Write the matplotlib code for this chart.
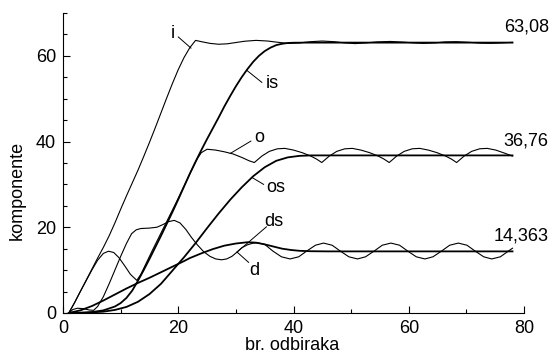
import matplotlib
matplotlib.use("Agg")
import matplotlib.pyplot as plt
from matplotlib.ticker import MultipleLocator

plt.rcParams['font.family'] = ['Liberation Sans', 'DejaVu Sans']

# i - thin, is - thick
i_x = [1, 2, 3, 4, 5, 6, 7, 8, 9, 10, 11, 12, 13, 14, 15, 16, 17, 18, 19, 20, 21, 22, 23,
       24, 25.5, 27, 28.5, 30, 31.5, 33.5, 35.5, 37, 39, 41, 43, 45, 47, 49, 50.7, 52.5,
       54.5, 56.8, 59, 61, 62.5, 64.5, 66.3, 68.3, 70.5, 72.5, 74.2, 76, 78]
i_y = [0, 2.4, 5, 7.6, 10.2, 12.8, 15.3, 18, 21, 24.2, 27.3, 30.3, 33.3, 36.5, 39.8, 43.2,
       46.7, 50.2, 53.6, 56.8, 59.6, 61.9, 63.6,
       63.3, 62.9, 62.7, 62.8, 63.1, 63.4, 63.6, 63.45, 63.2, 62.9, 63.0, 63.3, 63.45, 63.3,
       63.0, 62.85, 63.0, 63.25, 63.35, 63.2, 63.0, 62.9, 63.0, 63.25, 63.3, 63.15, 62.95,
       62.9, 63.0, 63.15]

is_x = [1, 3, 5, 7, 9, 10, 11, 12, 13, 14, 15, 16, 17, 18, 19, 20, 21, 22, 23, 24, 25, 26,
        27, 28, 29, 30, 31, 32, 33, 34, 35, 36, 37, 38, 39, 40, 42, 45, 78]
is_y = [0, 0.05, 0.2, 0.6, 1.5, 2.3, 3.5, 5.2, 7.5, 10, 12.6, 15.3, 18, 20.8, 23.6, 26.5,
        29.5, 32.5, 35.3, 38, 40.6, 43.1, 45.6, 48.2, 50.6, 52.9, 55, 56.9, 58.6, 60, 61.1,
        61.9, 62.5, 62.8, 63.0, 63.05, 63.08, 63.08, 63.08]

# o - thin, os - thick
o_x = [1, 2, 3, 4, 5, 6, 7, 7.9, 8.8, 9.7, 10.7, 11.7, 12.8, 13.5, 14.5, 15.5, 16.5, 17.5,
       18.5, 19.5, 20.5, 21.5, 22.5, 23.3, 24, 25, 26.5, 28, 29.5, 31, 32.3, 33.2, 34.5,
       35.8, 37.2, 38.5, 40, 41.5, 43, 44, 44.9, 46.2, 47.5, 48.9, 50.2, 51.7, 53.2, 54.7,
       55.7, 56.6, 57.9, 59.2, 60.6, 61.9, 63.4, 64.9, 66.4, 67.4, 68.3, 69.6, 70.9, 72.3,
       73.6, 75.1, 76.6, 78]
o_y = [0, 2.4, 5, 7.5, 10, 12.3, 13.9, 14.4, 14.1, 12.9, 11, 9, 7.6, 9, 11.8, 14.6, 17.3,
       20, 22.7, 25.4, 28.2, 31, 33.8, 36, 37.4, 38.2, 38.0, 37.6, 37.1, 36.3, 35.5, 35.1,
       36.6, 37.7, 38.3, 38.4, 38.0, 37.4, 36.6, 35.9, 35.1, 36.6, 37.7, 38.3, 38.4, 38.0,
       37.4, 36.6, 35.9, 35.1, 36.6, 37.7, 38.3, 38.4, 38.0, 37.4, 36.6, 35.9, 35.1, 36.6,
       37.7, 38.3, 38.4, 38.0, 37.3, 36.6]

os_x = [1, 4, 7, 9, 11, 13, 15, 17, 19, 21, 23, 25, 27, 29, 31, 33, 35, 37, 39, 41, 43, 78]
os_y = [0, 0.05, 0.3, 0.7, 1.4, 2.6, 4.4, 6.8, 9.9, 13.0, 16.3, 19.8, 23.2, 26.4, 29.3,
        31.9, 34, 35.5, 36.3, 36.65, 36.76, 36.76]

# d - thin, ds - thick
d_x = [1, 1.7, 2.5, 3.5, 4.5, 5.3, 6, 7, 8, 9, 10, 11, 11.9, 12.7, 13.5, 15, 16.3, 17.3,
       18.3, 19.3, 20.3, 21.3, 22.3, 23.3, 24.4, 25.5, 26.5, 27.5, 28.4, 29.3, 30.2, 31,
       32, 33, 33.8, 35, 36.4, 37.9, 39.4, 40.9, 42.3, 43.8, 45.2, 46.7, 48.1, 49.6, 51.1,
       52.5, 54.0, 55.4, 56.9, 58.4, 59.8, 61.3, 62.8, 64.2, 65.7, 67.1, 68.6, 70.1, 71.5,
       73.0, 74.4, 75.9, 77.3, 78]
d_y = [0, 0.8, 1.1, 1.0, 0.7, 0.6, 1.5, 3.8, 6.8, 10, 13.2, 16.2, 18.5, 19.4, 19.7, 19.8,
       20, 20.6, 21.3, 21.6, 21.0, 19.5, 17.6, 15.9, 14.3, 13.2, 12.6, 12.4, 12.6, 13.2,
       14.2, 15.2, 15.9, 16.3, 16.35, 16.0, 14.45, 13.1, 12.6, 13.1, 14.45, 15.8, 16.3,
       15.8, 14.45, 13.1, 12.6, 13.1, 14.45, 15.8, 16.3, 15.8, 14.45, 13.1, 12.6, 13.1,
       14.45, 15.8, 16.3, 15.8, 14.45, 13.1, 12.6, 13.1, 14.45, 15.1]

ds_x = [1, 3, 5, 7, 9, 11, 13, 15, 17, 19, 21, 22, 24, 26, 28, 30, 32, 33.5, 35, 36.5, 38,
        39.5, 41, 43, 46, 78]
ds_y = [0, 0.6, 1.6, 2.9, 4.3, 5.7, 7, 8.2, 9.5, 10.8, 12.1, 12.8, 13.9, 14.9, 15.7, 16.2,
        16.5, 16.4, 16, 15.5, 15.0, 14.7, 14.5, 14.4, 14.363, 14.363]

end_values = ['63,08', '36,76', '14,363']
end_y = [66.7, 40.1, 17.9]

fig = plt.figure(figsize=(5.53, 3.54), dpi=100)
ax = fig.add_axes([0.114, 0.116, 0.8336, 0.8474])

thin = 0.8
thick = 1.3
ax.plot(i_x, i_y, color='black', lw=thin)
ax.plot(is_x, is_y, color='black', lw=thick)
ax.plot(o_x, o_y, color='black', lw=thin)
ax.plot(os_x, os_y, color='black', lw=thick)
ax.plot(d_x, d_y, color='black', lw=thin)
ax.plot(ds_x, ds_y, color='black', lw=thick)

fs = 13
# curve names with leader lines
labels = [
    ('i', (22.2, 61.8), (19.0, 65.3), (20.0, 64.4)),
    ('is', (31.9, 56.6), (36.3, 53.6), (34.5, 53.8)),
    ('o', (29.0, 37.2), (34.0, 40.9), (32.6, 40.1)),
    ('os', (32.8, 31.6), (37.0, 29.2), (34.8, 30.0)),
    ('ds', (30.2, 14.2), (36.6, 21.3), (35.3, 20.1)),
    ('d', (30.2, 14.2), (33.2, 10.0), (32.2, 11.8)),
]
for name, p0, ptxt, p1 in labels:
    ax.plot([p0[0], p1[0]], [p0[1], p1[1]], color='black', lw=0.7)
    ax.text(ptxt[0], ptxt[1], name, fontsize=fs, ha='center', va='center')

for txt, yy in zip(end_values, end_y):
    ax.text(84.3, yy, txt, fontsize=fs, ha='right', va='center', clip_on=False)

ax.set_xlim(0, 80)
ax.set_ylim(0, 70)
ax.spines['top'].set_visible(False)
ax.spines['right'].set_visible(False)
ax.xaxis.set_major_locator(MultipleLocator(20))
ax.xaxis.set_minor_locator(MultipleLocator(10))
ax.yaxis.set_major_locator(MultipleLocator(20))
ax.yaxis.set_minor_locator(MultipleLocator(5))
ax.tick_params(which='major', direction='in', length=5, width=0.8, labelsize=fs, pad=5)
ax.tick_params(which='minor', direction='in', length=3.2, width=0.8)

fig.text(0.032, 0.463, 'komponente', rotation=90, fontsize=fs, ha='center', va='center')
fig.text(0.528, 0.025, 'br. odbiraka', fontsize=fs, ha='center', va='center')

fig.savefig('out.png', dpi=100)
